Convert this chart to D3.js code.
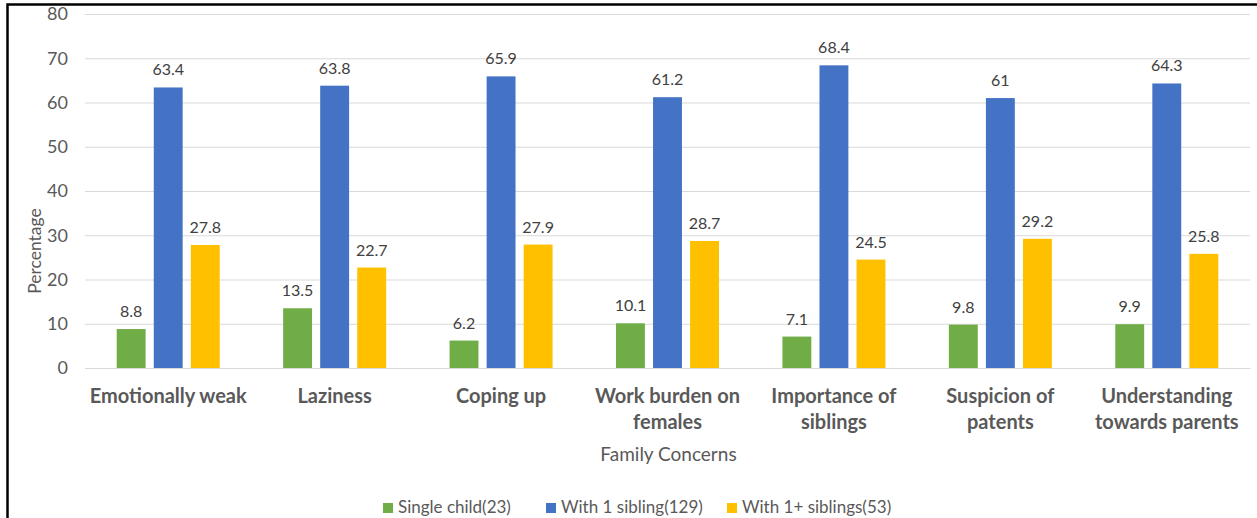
<!DOCTYPE html>
<html><head><meta charset="utf-8">
<script src="https://cdn.jsdelivr.net/npm/d3@7"></script>
<style>body{margin:0;background:#fff}svg{display:block}</style>
</head><body><svg id="c" width="1257" height="518"></svg>
<script>
const categories = [["Emotionally weak"],["Laziness"],["Coping up"],["Work burden on","females"],["Importance of","siblings"],["Suspicion of","patents"],["Understanding","towards parents"]];
const seriesNames = ["Single child(23)","With 1 sibling(129)","With 1+ siblings(53)"];
const single = [8.8,13.5,6.2,10.1,7.1,9.8,9.9];
const oneSib = [63.4,63.8,65.9,61.2,68.4,61,64.3];
const morSib = [27.8,22.7,27.9,28.7,24.5,29.2,25.8];
const yTicks = [0,10,20,30,40,50,60,70,80];
const colors = ["#70AD47","#4472C4","#FFC000"];
const series = [single, oneSib, morSib];

const svg = d3.select("#c");
const font = "Lato, 'Open Sans', sans-serif";
svg.append("rect").attr("x",7.5).attr("y",4.5).attr("width",1260).attr("height",520).attr("fill","none").attr("stroke","#000").attr("stroke-width",2.5);

const x0 = 85, x1 = 1250;
const y = d3.scaleLinear().domain([0,80]).range([368,14]);
const xb = d3.scaleBand().domain(d3.range(categories.length)).range([x0,x1]);
const xs = d3.scaleBand().domain([0,1,2]).range([0,103]).paddingInner(0.22);

const yAxis = d3.axisLeft(y).tickValues(yTicks).tickSize(-(x1-x0)).tickPadding(17);
const g = svg.append("g").attr("transform",`translate(${x0},0)`).call(yAxis);
g.select(".domain").remove();
g.selectAll(".tick line").attr("stroke","#d9d9d9").attr("stroke-width",1);
g.selectAll(".tick text").attr("fill","#595959").attr("font-size",18).attr("font-family",font);

const groups = svg.selectAll("g.grp").data(categories).join("g").attr("class","grp")
  .attr("transform",(d,i)=>`translate(${xb(i)+xb.bandwidth()/2-51.5},0)`);
series.forEach((s,k)=>{
  groups.append("rect").attr("x",xs(k)).attr("width",xs.bandwidth())
    .attr("y",(d,i)=>y(s[i])).attr("height",(d,i)=>y(0)-y(s[i])).attr("fill",colors[k]);
  groups.append("text").attr("x",xs(k)+xs.bandwidth()/2).attr("y",(d,i)=>y(s[i])-12)
    .attr("text-anchor","middle").attr("fill","#404040").attr("font-size",16).attr("font-family",font)
    .text((d,i)=>s[i]);
});

const xAxis = d3.axisBottom(xb).tickSize(0).tickFormat("");
const xa = svg.append("g").attr("transform",`translate(0,${y(0)})`).call(xAxis);
xa.select(".domain").attr("stroke","#d9d9d9");
xa.selectAll(".tick").each(function(i){
  const t = d3.select(this).append("text").attr("fill","#595959").attr("font-size",20).attr("font-weight","bold")
    .attr("font-family",font).attr("text-anchor","middle");
  categories[i].forEach((line,j)=>t.append("tspan").attr("x",0).attr("y",35+j*26).text(line));
});

svg.append("text").attr("x",(x0+x1)/2 + 1).attr("y",461).attr("text-anchor","middle").attr("fill","#595959")
  .attr("font-size",19).attr("font-family",font).text("Family Concerns");
svg.append("text").attr("transform","translate(41,251) rotate(-90)").attr("text-anchor","middle").attr("fill","#595959")
  .attr("font-size",17.5).attr("font-family",font).text("Percentage");

const legX = [383,546,727];
const lg = svg.selectAll("g.leg").data(seriesNames).join("g").attr("class","leg")
  .attr("transform",(d,i)=>`translate(${legX[i]},503)`);
lg.append("rect").attr("width",10).attr("height",10).attr("fill",(d,i)=>colors[i]);
lg.append("text").attr("x",15).attr("y",10).attr("fill","#595959").attr("font-size",17).attr("font-family",font).text(d=>d);
</script></body></html>
